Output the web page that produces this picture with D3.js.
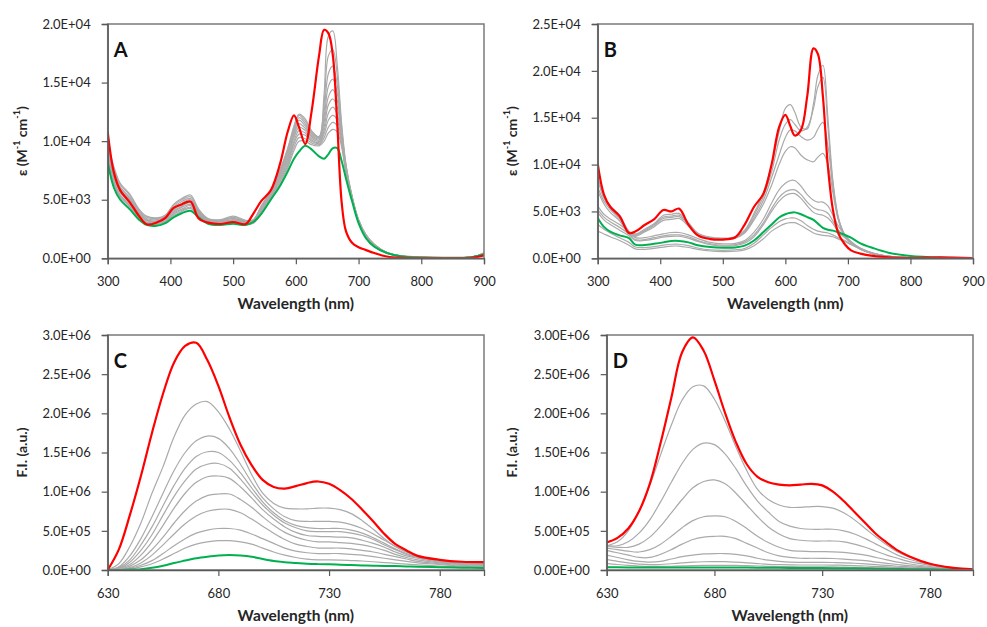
<!DOCTYPE html>
<html><head><meta charset="utf-8">
<script src="https://cdn.jsdelivr.net/npm/d3@7"></script>
<style>body{margin:0;background:#fff} svg{display:block;font-family:Lato,"Open Sans",sans-serif}</style>
</head><body><svg id="chart" width="987" height="627"></svg>
<script>
// ---------- Panel A (epsilon, x1E3) ----------
const wlA = [300,310,320,335,350,362,378,392,405,418,432,445,460,480,500,520,532,545,560,575,587,597,605,615,625,637,645,652,659,666,673,680,690,700,712,725,745,770,820,880,900];
const redA = [10.8,7.3,5.8,4.8,3.6,2.9,3.05,3.45,4.3,4.6,4.85,3.4,3.05,2.93,3.1,2.93,3.8,4.9,5.8,8.1,10.8,12.2,11.2,9.75,12.5,17.3,19.5,19.2,17.3,11.5,4.8,2.3,1.3,0.95,0.7,0.45,0.15,0.03,0.0,0.03,0.25];
const greenA = [8.2,6.0,5.0,4.2,3.3,2.85,2.78,3.0,3.5,3.85,4.05,3.5,2.95,2.85,2.95,2.85,3.1,3.8,5.0,6.2,7.4,8.5,9.1,9.6,9.3,8.7,8.5,8.9,9.4,9.4,8.3,6.8,4.8,3.0,1.7,1.0,0.45,0.15,0.05,0.1,0.35];
const grayA = [
 [8.5,6.3,5.2,4.4,3.4,2.95,2.9,3.1,3.65,4.0,4.25,3.6,3.0,2.9,3.0,2.9,3.0,3.8,5.0,6.3,7.7,9.2,10.0,10.0,9.7,9.6,10.0,10.7,11.0,10.8,9.5,7.3,5.0,3.1,1.8,1.05,0.45,0.15,0.05,0.1,0.38],
 [8.6,6.4,5.3,4.5,3.5,3.0,2.95,3.15,3.75,4.1,4.35,3.65,3.05,2.95,3.05,2.95,3.0,3.9,5.1,6.45,7.9,9.5,10.3,10.2,9.85,9.7,10.3,11.2,11.6,11.3,9.7,7.4,5.0,3.1,1.8,1.05,0.45,0.15,0.05,0.1,0.39],
 [8.8,6.6,5.4,4.6,3.5,3.05,3.0,3.2,3.85,4.2,4.5,3.7,3.1,3.0,3.1,2.95,3.05,3.95,5.2,6.6,8.1,9.8,10.6,10.5,10.0,9.8,10.6,11.8,12.2,11.8,9.9,7.45,5.05,3.15,1.85,1.1,0.45,0.15,0.06,0.1,0.4],
 [8.9,6.8,5.6,4.7,3.6,3.1,3.05,3.3,3.95,4.35,4.6,3.8,3.1,3.0,3.2,3.0,3.1,4.05,5.3,6.8,8.3,10.0,10.9,10.7,10.1,9.9,10.9,12.4,12.9,12.3,10.1,7.5,5.05,3.15,1.85,1.1,0.45,0.16,0.06,0.1,0.4],
 [9.1,6.9,5.7,4.8,3.7,3.2,3.1,3.35,4.05,4.45,4.75,3.85,3.15,3.05,3.25,3.05,3.1,4.1,5.35,6.95,8.5,10.3,11.2,10.9,10.25,10.0,11.2,13.1,13.6,12.9,10.3,7.6,5.1,3.2,1.9,1.1,0.5,0.17,0.06,0.1,0.41],
 [9.2,7.1,5.8,5.0,3.8,3.25,3.15,3.4,4.15,4.6,4.85,3.9,3.2,3.1,3.3,3.1,3.15,4.2,5.45,7.1,8.7,10.5,11.5,11.1,10.4,10.1,11.6,13.8,14.4,13.5,10.5,7.65,5.1,3.2,1.9,1.15,0.5,0.18,0.07,0.1,0.42],
 [9.4,7.3,6.0,5.1,3.9,3.3,3.2,3.5,4.25,4.7,5.0,4.0,3.25,3.15,3.4,3.1,3.2,4.25,5.5,7.25,8.9,10.7,11.8,11.3,10.5,10.2,12.0,14.7,15.3,14.1,10.7,7.7,5.15,3.25,1.95,1.15,0.5,0.18,0.07,0.1,0.43],
 [9.5,7.4,6.1,5.2,4.0,3.4,3.3,3.55,4.35,4.85,5.1,4.05,3.3,3.2,3.45,3.15,3.2,4.35,5.6,7.4,9.1,10.9,12.0,11.5,10.65,10.3,12.5,15.8,16.4,14.8,10.9,7.8,5.15,3.25,1.95,1.15,0.5,0.19,0.07,0.1,0.44],
 [9.7,7.6,6.3,5.4,4.1,3.5,3.4,3.6,4.5,5.0,5.25,4.1,3.35,3.25,3.5,3.2,3.25,4.4,5.7,7.5,9.3,11.1,12.2,11.7,10.8,10.35,13.2,17.3,17.8,15.6,11.2,7.9,5.2,3.3,2.0,1.2,0.5,0.2,0.08,0.1,0.45],
 [9.8,7.8,6.4,5.5,4.2,3.6,3.45,3.7,4.6,5.1,5.4,4.2,3.4,3.3,3.6,3.25,3.3,4.5,5.8,7.6,9.4,11.3,12.3,11.9,10.9,10.4,14.0,19.0,19.4,16.5,11.5,8.0,5.2,3.3,2.0,1.2,0.5,0.2,0.08,0.1,0.45]
];
const yTicksA = [0,5,10,15,20];
const yLabelsA = ["0.0E+00","5.0E+03","1.0E+04","1.5E+04","2.0E+04"];

// ---------- Panel B (epsilon, x1E3) ----------
const wlB = [300,310,320,335,350,360,375,390,405,418,430,445,460,480,500,520,535,550,565,578,590,600,608,615,625,635,645,652,660,668,676,685,695,705,720,740,765,800,850,900];
const redB = [10.1,6.8,5.5,4.5,2.7,2.85,3.55,4.15,5.15,5.0,5.3,3.6,2.45,2.05,2.0,2.25,3.6,5.5,6.9,10.0,14.0,15.3,14.1,13.1,13.7,17.3,22.4,21.8,17.3,9.8,5.2,2.6,1.5,0.85,0.5,0.25,0.1,0.03,0.1,0.02];
const greenB = [4.3,3.35,2.85,2.45,2.15,1.45,1.42,1.55,1.7,1.85,1.85,1.7,1.4,1.2,1.12,1.15,1.35,1.9,2.8,3.6,4.35,4.7,4.85,4.9,4.7,4.4,4.1,3.7,3.25,3.05,2.95,2.75,2.5,2.2,1.6,1.1,0.6,0.25,0.07,0.02];
const grayB = [
 [8.8,6.6,5.6,4.6,2.9,2.6,3.1,3.7,4.6,4.7,4.8,3.8,2.7,2.25,2.15,2.3,3.0,4.8,7.0,10.0,13.5,16.0,16.4,15.6,14.0,13.8,16.5,19.5,20.6,15.0,8.3,4.3,2.5,1.7,1.0,0.5,0.2,0.06,0.03,0.02],
 [8.4,6.4,5.4,4.4,2.8,2.5,3.0,3.6,4.4,4.5,4.6,3.7,2.6,2.2,2.1,2.25,2.9,4.6,6.6,9.2,12.6,14.3,14.8,14.3,13.6,14.0,16.0,18.3,19.3,14.0,8.0,4.2,2.5,1.7,1.0,0.5,0.2,0.06,0.03,0.02],
 [7.6,6.1,5.2,4.2,2.7,2.45,2.9,3.5,4.25,4.35,4.45,3.6,2.55,2.15,2.05,2.2,2.8,4.3,6.2,8.6,11.0,12.9,13.7,13.6,13.0,12.6,12.9,13.8,14.5,12.0,7.6,4.1,2.45,1.65,1.0,0.5,0.2,0.06,0.03,0.02],
 [7.2,5.8,4.9,4.0,2.6,2.35,2.8,3.35,4.05,4.15,4.25,3.45,2.45,2.1,2.0,2.15,2.7,4.1,5.8,7.8,10.0,11.4,11.9,11.8,11.0,10.5,10.3,10.8,11.2,10.0,7.0,4.0,2.4,1.6,0.95,0.48,0.2,0.06,0.03,0.02],
 [5.6,4.7,4.2,3.6,2.8,2.2,2.2,2.4,2.6,2.75,2.75,2.5,2.1,1.7,1.55,1.6,1.9,2.8,4.2,5.9,7.3,8.0,8.3,8.3,7.7,6.8,6.2,6.0,6.0,5.6,4.6,3.4,2.5,1.8,1.1,0.55,0.22,0.07,0.03,0.02],
 [5.2,4.4,3.9,3.3,2.6,2.0,2.0,2.2,2.4,2.5,2.5,2.3,1.9,1.55,1.4,1.45,1.75,2.5,3.8,5.3,6.5,7.1,7.3,7.3,6.8,6.0,5.4,5.2,5.1,4.8,4.0,3.0,2.3,1.7,1.05,0.52,0.21,0.07,0.03,0.02],
 [4.9,4.1,3.6,3.0,2.4,1.9,1.9,2.05,2.25,2.35,2.35,2.15,1.8,1.45,1.3,1.35,1.6,2.3,3.6,5.0,6.1,6.7,6.9,6.9,6.4,5.6,4.9,4.7,4.6,4.3,3.7,2.8,2.2,1.65,1.0,0.5,0.2,0.07,0.03,0.02],
 [3.6,3.1,2.7,2.2,1.7,1.2,1.15,1.25,1.4,1.5,1.5,1.35,1.1,0.9,0.85,0.9,1.05,1.6,2.5,3.3,3.9,4.2,4.3,4.3,4.0,3.5,3.1,2.9,2.8,2.7,2.5,2.2,1.9,1.5,1.05,0.55,0.22,0.07,0.03,0.02],
 [2.9,2.6,2.3,1.9,1.4,1.0,0.95,1.05,1.2,1.3,1.3,1.15,0.95,0.78,0.72,0.75,0.9,1.35,2.1,2.9,3.4,3.7,3.8,3.8,3.5,3.1,2.7,2.55,2.45,2.4,2.3,2.05,1.8,1.45,1.0,0.5,0.2,0.06,0.03,0.02]
];
const yTicksB = [0,5,10,15,20,25];
const yLabelsB = ["0.0E+00","5.0E+03","1.0E+04","1.5E+04","2.0E+04","2.5E+04"];
const xTicksAB = [300,400,500,600,700,800,900];

// ---------- Panel C (F.I., x1E6) ----------
const wlC = [630,635,640,645,650,655,660,665,670,675,680,685,690,695,700,705,710,715,720,725,730,735,740,745,750,755,760,765,770,780,790,800];
const redC = [0.0,0.26,0.7,1.2,1.75,2.25,2.65,2.86,2.9,2.68,2.35,1.95,1.6,1.34,1.15,1.06,1.04,1.07,1.11,1.13,1.1,1.02,0.91,0.77,0.62,0.46,0.33,0.25,0.18,0.13,0.105,0.1];
const greenC = [0,0,0.005,0.01,0.03,0.055,0.09,0.12,0.15,0.17,0.185,0.19,0.185,0.17,0.14,0.115,0.1,0.09,0.08,0.075,0.072,0.068,0.063,0.058,0.055,0.052,0.05,0.046,0.043,0.036,0.03,0.025];
const grayC = [
 [0,0.08,0.3,0.6,0.98,1.32,1.7,1.98,2.12,2.15,2.02,1.8,1.52,1.22,0.98,0.85,0.79,0.78,0.78,0.79,0.79,0.77,0.72,0.63,0.52,0.4,0.3,0.23,0.18,0.12,0.09,0.08],
 [0,0.04,0.18,0.4,0.68,0.98,1.27,1.5,1.65,1.71,1.68,1.55,1.35,1.12,0.92,0.78,0.68,0.63,0.62,0.62,0.62,0.61,0.58,0.53,0.46,0.38,0.3,0.23,0.18,0.12,0.09,0.08],
 [0,0.03,0.13,0.32,0.55,0.82,1.08,1.3,1.45,1.51,1.5,1.4,1.24,1.05,0.87,0.73,0.63,0.57,0.54,0.53,0.53,0.53,0.51,0.47,0.41,0.34,0.27,0.21,0.17,0.12,0.09,0.07],
 [0,0.02,0.1,0.25,0.45,0.7,0.94,1.14,1.29,1.35,1.36,1.3,1.16,0.99,0.83,0.7,0.6,0.54,0.5,0.49,0.49,0.49,0.47,0.44,0.39,0.32,0.26,0.2,0.16,0.11,0.08,0.07],
 [0,0.02,0.07,0.19,0.36,0.57,0.79,0.98,1.12,1.19,1.2,1.17,1.06,0.92,0.77,0.65,0.55,0.48,0.44,0.43,0.425,0.42,0.41,0.38,0.34,0.29,0.23,0.18,0.15,0.1,0.08,0.06],
 [0,0.01,0.05,0.13,0.26,0.42,0.6,0.76,0.88,0.95,0.97,0.97,0.9,0.8,0.68,0.57,0.48,0.42,0.38,0.36,0.36,0.35,0.34,0.32,0.29,0.25,0.2,0.16,0.13,0.09,0.07,0.06],
 [0,0.01,0.03,0.09,0.19,0.32,0.46,0.59,0.69,0.75,0.775,0.775,0.73,0.65,0.56,0.47,0.39,0.33,0.3,0.28,0.28,0.28,0.27,0.25,0.23,0.2,0.17,0.14,0.11,0.08,0.06,0.05],
 [0,0,0.02,0.06,0.12,0.21,0.31,0.4,0.47,0.51,0.53,0.53,0.51,0.46,0.4,0.34,0.28,0.24,0.22,0.21,0.21,0.21,0.2,0.19,0.17,0.15,0.13,0.11,0.09,0.07,0.05,0.04],
 [0,0,0.01,0.04,0.08,0.14,0.21,0.28,0.33,0.36,0.374,0.374,0.36,0.33,0.28,0.23,0.19,0.16,0.14,0.13,0.128,0.125,0.12,0.115,0.105,0.095,0.085,0.075,0.065,0.05,0.04,0.035]
];
const yTicksCD = [0,0.5,1,1.5,2,2.5,3];
const yLabelsC = ["0.0E+00","5.0E+05","1.0E+06","1.5E+06","2.0E+06","2.5E+06","3.0E+06"];
const xTicksCD = [630,680,730,780];

// ---------- Panel D (F.I., x1E6) ----------
const wlD = [630,635,640,645,650,655,660,665,670,675,680,685,690,695,700,705,710,715,720,725,730,735,740,745,750,755,760,765,770,780,790,800];
const redD = [0.35,0.41,0.53,0.75,1.1,1.62,2.2,2.78,2.97,2.8,2.42,2.0,1.63,1.35,1.19,1.12,1.09,1.08,1.09,1.1,1.08,1.0,0.88,0.74,0.6,0.46,0.35,0.25,0.18,0.08,0.03,0.008];
const greenD = [0.035,0.034,0.033,0.032,0.031,0.031,0.031,0.032,0.032,0.033,0.033,0.033,0.032,0.031,0.03,0.029,0.028,0.027,0.026,0.025,0.024,0.023,0.022,0.021,0.019,0.017,0.015,0.013,0.011,0.008,0.005,0.003];
const grayD = [
 [0.31,0.36,0.5,0.75,1.08,1.47,1.85,2.17,2.34,2.35,2.18,1.9,1.57,1.27,1.03,0.9,0.83,0.8,0.8,0.81,0.81,0.79,0.73,0.64,0.53,0.42,0.32,0.23,0.17,0.08,0.03,0.01],
 [0.31,0.31,0.36,0.47,0.64,0.87,1.12,1.36,1.54,1.62,1.6,1.48,1.29,1.07,0.88,0.74,0.62,0.56,0.53,0.52,0.52,0.52,0.5,0.46,0.4,0.33,0.26,0.19,0.14,0.07,0.03,0.01],
 [0.3,0.29,0.29,0.33,0.42,0.56,0.73,0.9,1.05,1.13,1.15,1.1,0.98,0.83,0.68,0.55,0.46,0.4,0.38,0.37,0.37,0.37,0.36,0.33,0.29,0.24,0.19,0.15,0.11,0.06,0.025,0.01],
 [0.28,0.26,0.24,0.23,0.26,0.33,0.43,0.54,0.63,0.68,0.69,0.68,0.62,0.53,0.43,0.35,0.29,0.25,0.24,0.235,0.234,0.232,0.225,0.21,0.19,0.16,0.13,0.1,0.08,0.045,0.02,0.01],
 [0.25,0.22,0.19,0.16,0.16,0.2,0.26,0.33,0.39,0.42,0.43,0.43,0.4,0.34,0.28,0.22,0.18,0.16,0.15,0.15,0.149,0.147,0.14,0.13,0.12,0.1,0.085,0.07,0.055,0.035,0.018,0.008],
 [0.19,0.16,0.13,0.11,0.1,0.11,0.14,0.17,0.19,0.205,0.21,0.21,0.2,0.18,0.15,0.125,0.11,0.1,0.098,0.098,0.098,0.096,0.092,0.086,0.078,0.068,0.058,0.048,0.04,0.026,0.014,0.007],
 [0.135,0.11,0.09,0.075,0.068,0.07,0.08,0.09,0.1,0.105,0.106,0.106,0.1,0.092,0.082,0.073,0.068,0.065,0.064,0.064,0.064,0.063,0.06,0.056,0.051,0.045,0.039,0.033,0.028,0.019,0.011,0.006],
 [0.085,0.07,0.058,0.05,0.046,0.046,0.048,0.052,0.056,0.058,0.06,0.06,0.058,0.055,0.051,0.047,0.044,0.042,0.041,0.041,0.04,0.039,0.037,0.034,0.031,0.028,0.024,0.02,0.017,0.012,0.008,0.005]
];
const yLabelsD = ["0.00E+00","5.00E+05","1.00E+06","1.50E+06","2.00E+06","2.50E+06","3.00E+06"];

const xTitle = "Wavelength (nm)";

// ---------- drawing ----------
const svg = d3.select("#chart");
const panels = [
 {name:"A", wl:wlA, red:redA, green:greenA, grays:grayA, xDom:[300,900], xTicks:xTicksAB, yDom:[0,20], yTicks:yTicksA, yLabels:yLabelsA, box:{l:107.7,r:484,t:24,b:258.3}, yTitle:"eps", titleX:21, tickY:286.5, xTitleY:309},
 {name:"B", wl:wlB, red:redB, green:greenB, grays:grayB, xDom:[300,900], xTicks:xTicksAB, yDom:[0,25], yTicks:yTicksB, yLabels:yLabelsB, box:{l:597.7,r:973,t:24,b:258.3}, yTitle:"eps", titleX:511, tickY:286.5, xTitleY:309},
 {name:"C", wl:wlC, red:redC, green:greenC, grays:grayC, xDom:[630,800], xTicks:xTicksCD, yDom:[0,3], yTicks:yTicksCD, yLabels:yLabelsC, box:{l:107.7,r:484,t:335,b:570}, yTitle:"fi", titleX:21, tickY:597.5, xTitleY:621},
 {name:"D", wl:wlD, red:redD, green:greenD, grays:grayD, xDom:[630,800], xTicks:xTicksCD, yDom:[0,3], yTicks:yTicksCD, yLabels:yLabelsD, box:{l:606.7,r:973,t:335,b:570}, yTitle:"fi", titleX:511, tickY:597.5, xTitleY:621}
];

panels.forEach((p,i) => {
  const b = p.box;
  const x = d3.scaleLinear().domain(p.xDom).range([b.l,b.r]);
  const y = d3.scaleLinear().domain(p.yDom).range([b.b,b.t]);
  const g = svg.append("g");
  const clipId = "clip"+i;
  svg.append("clipPath").attr("id",clipId).append("rect")
     .attr("x",b.l).attr("y",b.t-2).attr("width",b.r-b.l).attr("height",b.b-b.t+2);
  const line = d3.line().x(d=>x(d[0])).y(d=>y(d[1])).curve(d3.curveCatmullRom.alpha(0.5));
  const lg = g.append("g").attr("clip-path",`url(#${clipId})`);
  p.grays.forEach(s => {
    lg.append("path").attr("d", line(p.wl.map((w,k)=>[w,s[k]])))
      .attr("fill","none").attr("stroke","#aaaaaa").attr("stroke-width",1.2);
  });
  lg.append("path").attr("d", line(p.wl.map((w,k)=>[w,p.green[k]])))
    .attr("fill","none").attr("stroke","#00b050").attr("stroke-width",2);
  lg.append("path").attr("d", line(p.wl.map((w,k)=>[w,p.red[k]])))
    .attr("fill","none").attr("stroke","#ff0000").attr("stroke-width",2.2);

  // frame
  g.append("rect").attr("x",b.l).attr("y",b.t).attr("width",b.r-b.l).attr("height",b.b-b.t)
    .attr("fill","none").attr("stroke","#7a7a7a").attr("stroke-width",1.5);

  // y axis
  const ya = g.append("g").attr("transform",`translate(${b.l},0)`)
    .call(d3.axisLeft(y).tickValues(p.yTicks).tickSize(6).tickPadding(11).tickFormat((d,k)=>p.yLabels[k]));
  ya.select(".domain").attr("stroke","#595959").attr("stroke-width",1.3);
  ya.selectAll(".tick line").attr("stroke","#595959").attr("stroke-width",1.2);
  ya.selectAll(".tick text").attr("font-size",13).attr("fill","#262626").attr("font-family","Lato");

  // x axis
  const xa = g.append("g").attr("transform",`translate(0,${b.b})`)
    .call(d3.axisBottom(x).tickValues(p.xTicks).tickSize(6).tickFormat(d3.format("d")));
  xa.select(".domain").attr("stroke","#595959").attr("stroke-width",1.3);
  xa.selectAll(".tick line").attr("stroke","#595959").attr("stroke-width",1.2);
  xa.selectAll(".tick text").attr("font-size",13).attr("fill","#262626").attr("font-family","Lato")
    .attr("y", p.tickY - b.b).attr("dy",null);

  // x title
  g.append("text").attr("x",(b.l+b.r)/2).attr("y",p.xTitleY).attr("text-anchor","middle")
    .attr("font-size",15.5).attr("font-weight","bold").attr("fill","#262626").text(xTitle);

  // y title
  const yt = g.append("text").attr("transform",`translate(${p.titleX},${(b.t+b.b)/2}) rotate(-90)`)
    .attr("text-anchor","middle").attr("dominant-baseline","central")
    .attr("font-size",14).attr("font-weight","bold").attr("fill","#262626");
  if (p.yTitle==="eps") {
    yt.append("tspan").text("ε (M");
    yt.append("tspan").attr("font-size",9).attr("dy",-5).text("-1");
    yt.append("tspan").attr("dy",5).text(" cm");
    yt.append("tspan").attr("font-size",9).attr("dy",-5).text("-1");
    yt.append("tspan").attr("dy",5).text(")");
  } else {
    yt.text("F.I. (a.u.)");
  }

  // panel letter
  g.append("text").attr("x",b.l+6).attr("y",b.t+33).attr("font-size",20).attr("font-weight","bold")
    .attr("fill","#111").text(p.name);
});
</script>
</body></html>
